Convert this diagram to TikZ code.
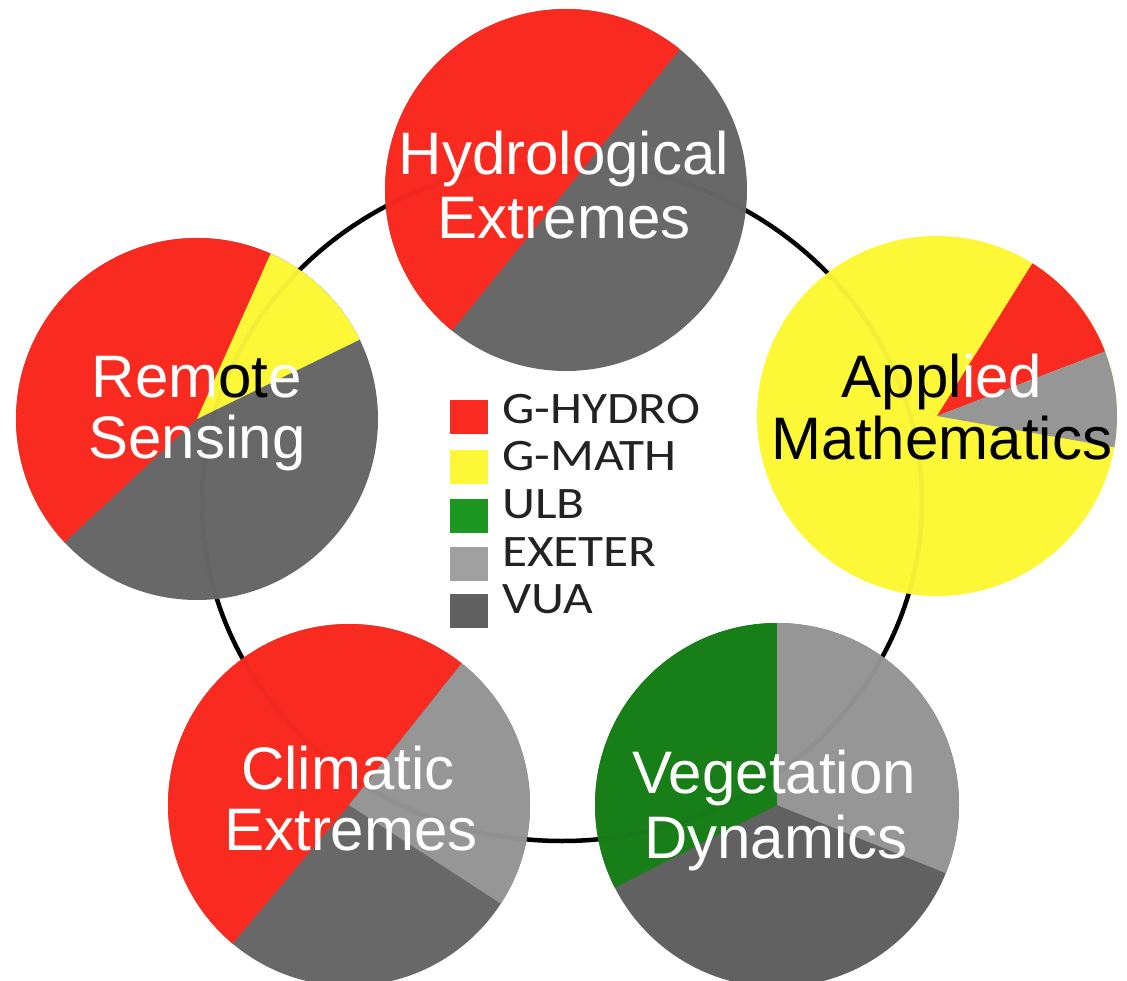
\documentclass[tikz,border=0pt]{standalone}
\usepackage{fontspec}
\usepackage{graphicx}
\setmainfont{Liberation Sans}
\newfontfamily\legendfont{Carlito}

\definecolor{pred}{RGB}{249,42,32}
\definecolor{pyel}{RGB}{252,247,55}
\definecolor{pgreen}{RGB}{24,126,24}
\definecolor{plight}{RGB}{150,150,150}
\definecolor{pdark}{RGB}{104,104,104}
\definecolor{vdark}{RGB}{97,97,97}
\definecolor{kgreen}{RGB}{28,152,32}
\definecolor{klight}{RGB}{160,160,160}
\definecolor{kdark}{RGB}{96,96,96}
\definecolor{keyink}{RGB}{34,34,34}

% one pie wedge: centre, radius, start angle, end angle, colour
\newcommand\pieWedge[5]{\fill[#5] (#1) -- ++(#3:#2) arc[start angle=#3, end angle=#4, radius=#2] -- cycle;}
\newcommand\legendText[1]{\scalebox{1.14}[1]{#1}}

\begin{document}
\begin{tikzpicture}[x=1pt,y=1pt,
  ring/.style={line width=4.5pt, draw=black},
  lbl/.style={anchor=base, inner sep=0pt, text=white, font=\fontsize{60}{62}\selectfont},
  keybox/.style={minimum width=38pt, minimum height=34pt, inner sep=0pt, anchor=north west},
  keytext/.style={anchor=base west, inner sep=0pt, text=keyink, font=\legendfont\fontsize{45}{47}\selectfont}]
\useasboundingbox (0,0) rectangle (1127,-981);

% the ring linking the five themes
\draw[ring] (562,-502) ellipse [x radius=360, y radius=339];

% Hydrological Extremes
\fill[pdark] (566,-190) circle [radius=181];
\pieWedge{566,-190}{181}{51}{231}{pred}

% Applied Mathematics
\fill[pyel] (937,-416) circle [radius=180];
\pieWedge{937,-416}{180}{21}{58}{pred}
\pieWedge{937,-416}{180}{-10}{21}{plight}

% Vegetation Dynamics
\fill[vdark] (777,-805) circle [radius=182];
\pieWedge{777,-805}{182}{90}{207}{pgreen}
\pieWedge{777,-805}{182}{-22}{90}{plight}

% Climatic Extremes
\fill[pdark] (349,-805) circle [radius=181];
\pieWedge{349,-805}{181}{51.5}{230}{pred}
\pieWedge{349,-805}{181}{-33}{51.5}{plight}

% Remote Sensing
\fill[pdark] (197,-419) circle [radius=181];
\pieWedge{197,-419}{181}{66}{223}{pred}
\pieWedge{197,-419}{181}{26}{66}{pyel}

% the ring shows faintly through the pies
\draw[ring, opacity=0.035] (562,-502) ellipse [x radius=360, y radius=339];

% pie labels
\node[lbl] (hyd1) at (564,-175) {Hydrological};
\node[lbl] (hyd2) at (564,-239) {Extremes};
\node[lbl, text=black] (app1) at (942,-397) {Appl\textcolor{white}{ied}};
\node[lbl, text=black] (app2) at (942,-459) {Mathematics};
\node[lbl] (veg1) at (774,-793) {Vegetation};
\node[lbl] (veg2) at (776,-858) {Dynamics};
\node[lbl] (cli1) at (348,-789) {Climatic};
\node[lbl] (cli2) at (351,-850) {Extremes};
\node[lbl] (rem1) at (197,-397) {Rem\textcolor{black}{ot}e};
\node[lbl] (rem2) at (197,-458) {Sensing};

% legend
\node[keybox, fill=pred]   (k1) at (450,-400) {};
\node[keybox, fill=pyel]   (k2) at (450,-450) {};
\node[keybox, fill=kgreen] (k3) at (450,-499) {};
\node[keybox, fill=klight] (k4) at (450,-547) {};
\node[keybox, fill=kdark]  (k5) at (450,-594) {};
\node[keytext] (t1) at (502,-423) {\legendText{G-HYDRO}};
\node[keytext] (t2) at (502,-470) {\legendText{G-MATH}};
\node[keytext] (t3) at (502,-518) {\legendText{ULB}};
\node[keytext] (t4) at (502,-566) {\legendText{EXETER}};
\node[keytext] (t5) at (502,-613) {\legendText{VUA}};
\end{tikzpicture}
\end{document}
